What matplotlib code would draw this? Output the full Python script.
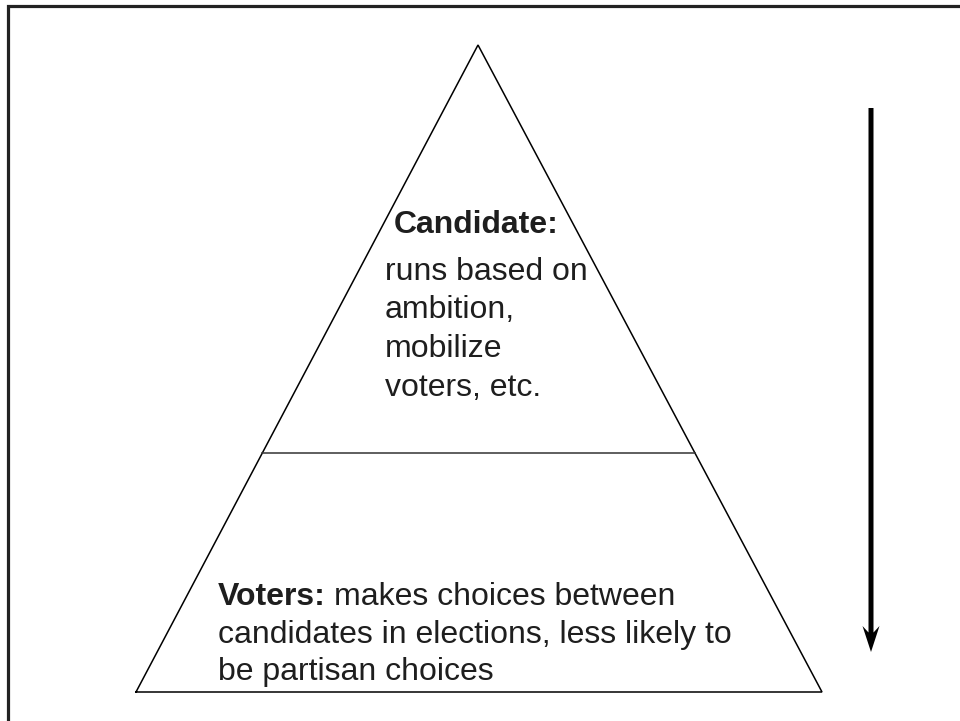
import matplotlib
matplotlib.use("Agg")
import matplotlib.pyplot as plt
from matplotlib.patches import FancyArrow

plt.rcParams['font.family'] = ['Liberation Sans', 'DejaVu Sans']

# pyramid geometry (pixel coordinates of the 960x721 canvas)
apex = (478, 45)
base_left = (136, 692)
base_right = (822, 692)
divider_y = 453

# arrow (top, tip) at x
arrow_x = 871
arrow_top = 108
arrow_tip = 652

# texts
top_title = "Candidate:"
top_lines = ["runs based on", "ambition,", "mobilize", "voters, etc."]
bottom_title = "Voters:"
bottom_lines = ["makes choices between",
                "candidates in elections, less likely to",
                "be partisan choices"]

text_color = '#1e1e1e'
fs = 23

fig = plt.figure(figsize=(9.6, 7.21), dpi=100)
ax = fig.add_axes([0, 0, 1, 1])
ax.set_xlim(0, 960)
ax.set_ylim(721, 0)
ax.axis('off')

# frame (only top and left visible)
ax.plot([8, 8, 962], [725, 6, 6], color='#222222', lw=2.3, solid_joinstyle='miter')

# triangle
xs = [base_left[0], apex[0], base_right[0], base_left[0]]
ys = [base_left[1], apex[1], base_right[1], base_left[1]]
ax.plot(xs, ys, color='black', lw=1.1, solid_joinstyle='miter')

# divider line at divider_y, clipped to triangle edges
t = (divider_y - apex[1]) / (base_left[1] - apex[1])
dl = apex[0] + t * (base_left[0] - apex[0])
dr = apex[0] + t * (base_right[0] - apex[0])
ax.plot([dl, dr], [divider_y, divider_y], color='#333333', lw=1.1)

# arrow
ax.add_patch(FancyArrow(arrow_x, arrow_top, 0, arrow_tip - arrow_top, width=5,
                        head_width=17, head_length=26, length_includes_head=True,
                        overhang=0.25, color='black', lw=0))

# top label
ax.text(394, 233, top_title, fontsize=fs, fontweight='bold', color=text_color,
        va='baseline', ha='left')
for i, line in enumerate(top_lines):
    ax.text(385, 280 + i * 38.5, line, fontsize=fs, color=text_color,
            va='baseline', ha='left')

# bottom label: bold title followed by regular text on the same line
fig.canvas.draw()
renderer = fig.canvas.get_renderer()
tt = ax.text(218, 605, bottom_title, fontsize=fs, fontweight='bold', color=text_color,
             va='baseline', ha='left')
bb = tt.get_window_extent(renderer)
inv = ax.transData.inverted()
x_end = inv.transform((bb.x1, bb.y0))[0]
space = 8
for i, line in enumerate(bottom_lines):
    x = x_end + space if i == 0 else 218
    ax.text(x, 605 + i * 37.5, line, fontsize=fs, color=text_color,
            va='baseline', ha='left')

fig.savefig('out.png', dpi=100)
